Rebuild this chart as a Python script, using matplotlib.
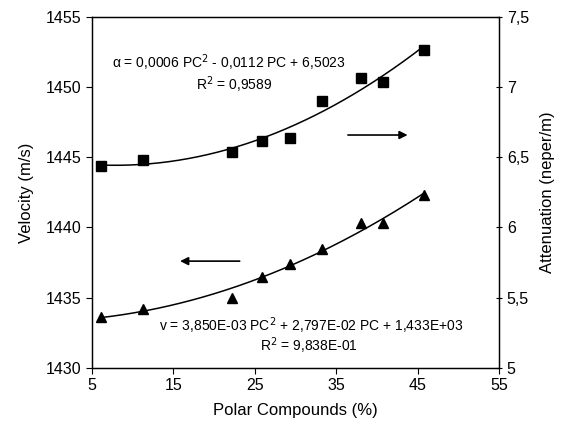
import numpy as np
import matplotlib
matplotlib.use('Agg')
import matplotlib.pyplot as plt
from matplotlib.ticker import FuncFormatter

plt.rcParams['font.family'] = ['Liberation Sans', 'DejaVu Sans']

# polar compounds (%) and measured values
pc = [6.1, 11.3, 22.2, 25.9, 29.3, 33.2, 38.0, 40.7, 45.8]
velocity = [1433.6, 1434.2, 1435.0, 1436.5, 1437.4, 1438.5, 1440.3, 1440.3, 1442.3]
attenuation = [6.44, 6.48, 6.54, 6.62, 6.64, 6.90, 7.07, 7.04, 7.27]

x_ticks = [5, 15, 25, 35, 45, 55]
v_ticks = [1430, 1435, 1440, 1445, 1450, 1455]
a_ticks = [5, 5.5, 6, 6.5, 7, 7.5]

fig = plt.figure(figsize=(5.66, 4.33), dpi=100)
ax = fig.add_axes([0.162, 0.151, 0.72, 0.809])
ax2 = ax.twinx()

# second order trendlines over the data range
xs = np.linspace(min(pc), max(pc), 200)
v_fit = np.polyfit(pc, velocity, 2)
a_fit = np.polyfit(pc, attenuation, 2)
ax.plot(xs, np.polyval(v_fit, xs), color='black', lw=1.1)
ax2.plot(xs, np.polyval(a_fit, xs), color='black', lw=1.1)

ax.plot(pc, velocity, '^', color='black', ms=7.5, clip_on=False)
ax2.plot(pc, attenuation, 's', color='black', ms=6.5, clip_on=False)

ax.set_xlim(5, 55)
ax.set_ylim(1430, 1455)
ax2.set_ylim(5, 7.5)
ax.set_xticks(x_ticks)
ax.set_yticks(v_ticks)
ax2.set_yticks(a_ticks)
ax2.yaxis.set_major_formatter(FuncFormatter(lambda v, p: ('%g' % v).replace('.', ',')))

ax.tick_params(labelsize=11.5, length=4, width=0.8)
ax2.tick_params(labelsize=11.5, length=4, width=0.8, direction='inout')
for a in (ax, ax2):
    for s in a.spines.values():
        s.set_linewidth(0.9)

ax.set_xlabel('Polar Compounds (%)', fontsize=12, labelpad=7)
ax.set_ylabel('Velocity (m/s)', fontsize=12, labelpad=8)
ax2.set_ylabel('Attenuation (neper/m)', fontsize=12, labelpad=8)

# direction arrows
ax.annotate('', xy=(44.1, 1446.6), xytext=(36.1, 1446.6),
            arrowprops=dict(arrowstyle='-|>', color='black', lw=1.2, mutation_scale=12))
ax.annotate('', xy=(15.5, 1437.6), xytext=(23.5, 1437.6),
            arrowprops=dict(arrowstyle='-|>', color='black', lw=1.2, mutation_scale=12))

ax.text(21.85, 1451.75, 'α = 0,0006 PC$^2$ - 0,0112 PC + 6,5023', ha='center', va='center', fontsize=10)
ax.text(22.5, 1450.2, 'R$^2$ = 0,9589', ha='center', va='center', fontsize=10)
ax.text(31.9, 1433.0, 'v = 3,850E-03 PC$^2$ + 2,797E-02 PC + 1,433E+03', ha='center', va='center', fontsize=10)
ax.text(31.6, 1431.55, 'R$^2$ = 9,838E-01', ha='center', va='center', fontsize=10)

fig.savefig('out.png', dpi=100)
